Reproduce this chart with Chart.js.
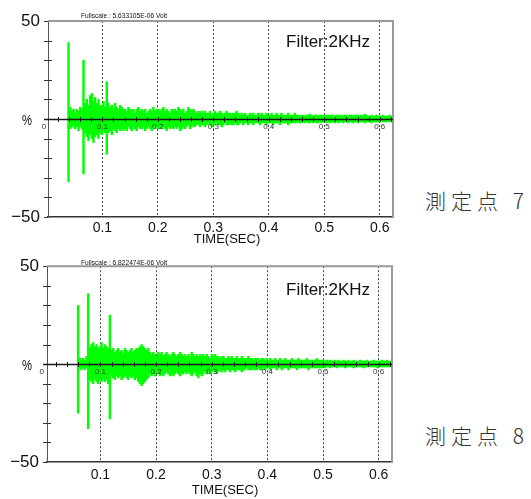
<!DOCTYPE html>
<html><head><meta charset="utf-8">
<script src="https://cdn.jsdelivr.net/npm/chart.js@4.4.1/dist/chart.umd.min.js"></script>
<style>
html,body{margin:0;padding:0;background:#fff;width:531px;height:499px;overflow:hidden;}
canvas{position:absolute;left:0;}
#c1{top:0}
#c2{top:248px}
.pt{position:absolute;left:425px;font-family:"Noto Sans CJK JP","Noto Sans CJK SC",sans-serif;font-weight:300;font-size:21px;letter-spacing:5px;color:#333;line-height:24px;white-space:nowrap}
</style></head><body>
<canvas id="c1" width="400" height="248"></canvas>
<canvas id="c2" width="400" height="251"></canvas>
<div class="pt" style="top:188px">測定点 7</div>
<div class="pt" style="top:423px">測定点 8</div>
<script>
// ---- data ----
const xTickValues = [0.1, 0.2, 0.3, 0.4, 0.5, 0.6];
const innerTickValues = [0, 0.1, 0.2, 0.3, 0.4, 0.5, 0.6];
const innerTickLabels = ['0', '0.1', '0.2', '0.3', '0.4', '0.5', '0.6'];
const yLabelTexts = { '50': '50', '-50': '\u221250' };
const sampleStep = 0.003;          // seconds per envelope bin
const start7 = 0.039;              // first bin of 測定点 7
const start8 = 0.060;              // first bin of 測定点 8
const fullscale7 = 'Fullscale : 5.633105E-06 Volt';
const fullscale8 = 'Fullscale : 6.822474E-06 Volt';
const filterText = 'Filter:2KHz';
const xTitle = 'TIME(SEC)';

// 測定点 7 envelope (%), max and min per bin
const hi7 = [39,
  6,4,5,3,5,4,6,5,
  30,
  8,10,7,12,13,9,11,8,10,7,
  7,9,6,
  19,
  8,6,7,5,8,6,5,7,6,5,
  5,4,6,5,4,5,3,5,6,4, 5,4,5,3,4,5,4,6,4,5,
  5,4,5,6,4,5,4,3,5,4, 5,4,6,5,4,5,3,4,6,5, 4,5,4,3,
  4,3,4,3,4,3,3,4,2,3, 4,3,3,4,3,2,3,4,3,3, 2,3,3,4,3,2,
  3,2,3,2,2,3,2,3,2,2, 3,2,3,2,2,3,2,2,3,2, 2,3,2,2,3,2,2,2,3,2, 2,2,3,
  2,2,1.5,2,2,1.5,2,2,2.5,2, 1.5,2,2,1.5,2,2,1.5,2,2,2, 1.5,2,2,1.5,2,2,1.5,2,1.5,2, 2,1.5,2,2,1.5,2,2,2,1.5,
  2,1.5,2.5,2,1.5,1.5,2,1.5,1.5,2, 1.5,1.5,1.5,2,1.5,1.5,1.5,2,1.5,1.5];
const lo7 = [-32,
  -5,-4,-3,-5,-4,-6,-4,-5,
  -28,
  -7,-9,-11,-8,-10,-12,-9,-8,-10,-7,
  -8,-6,-7,
  -18,
  -7,-6,-8,-5,-6,-7,-5,-6,-5,-6,
  -5,-6,-4,-5,-6,-4,-5,-6,-4,-5, -5,-4,-6,-5,-4,-5,-6,-4,-5,-4,
  -5,-4,-5,-4,-5,-6,-4,-5,-4,-5, -4,-5,-4,-6,-5,-4,-5,-4,-3,-5, -4,-3,-4,-3,
  -3,-4,-3,-3,-4,-3,-2,-3,-4,-3, -3,-2,-3,-3,-4,-3,-2,-3,-3,-2, -3,-3,-2,-3,-3,-2,
  -2,-3,-2,-2,-3,-2,-2,-3,-2,-2, -2,-3,-2,-2,-2,-3,-2,-2,-2,-3, -2,-2,-2,-3,-2,-2,-2,-2,-3,-2, -2,-2,-2,
  -2,-1.5,-2,-2,-1.5,-2,-1.5,-2,-2,-1.5, -2,-1.5,-2,-2,-1.5,-2,-1.5,-1.5,-2,-1.5, -2,-1.5,-1.5,-2,-1.5,-2,-1.5,-1.5,-2,-1.5, -1.5,-2,-1.5,-1.5,-2,-1.5,-1.5,-2,-1.5,
  -1.5,-1.5,-2,-1.5,-1.5,-1.5,-2,-1.5,-1.5,-1.5, -1.5,-1.5,-1,-1.5,-1.5,-1.5,-1,-1.5,-1.5,-1];

// 測定点 8 envelope (%), max and min per bin
const hi8 = [30,
  3,2,3,2,4,
  36,
  8,10,11,9,10,8,9,11,8,10,9,8,
  25,
  7,8,6,7,8,6,7,5,8,7,6,7,8,6,7,8,
  8,9,10,9,8,7,8,
  6,5,6,5,4,6,5,6,4,5, 6,5,4,5,6,5,4,5,6,5, 4,
  5,4,5,4,6,5,4,5,4,5, 4,5,4,5,4,3,5,4,5,4, 4,3,4,
  4,3,3,4,3,4,3,3,4,3, 3,4,3,3,3,4,3,3,2,3, 3,3,2,3,3,2,3,
  2,3,2,2,3,2,2,3,2,2, 3,2,2,2,3,2,2,2,3,2, 2,2,2,3,2,2,2,2,2,3, 2,2,2,
  2,1.5,2,1.5,2,1.5,1.5,2,1.5,2, 1.5,1.5,2,1.5,1.5,2,1.5,1.5,2,1.5, 1.5,1.5,2,1.5,1.5,1.5,2,1.5,1.5,1.5, 2,1.5,1.5,1.5,1.5,2,1.5,1.5,2,1.5, 1.5,1.5];
const lo8 = [-25,
  -2,-3,-2,-3,-2,
  -33,
  -8,-9,-10,-8,-9,-10,-8,-9,-7,-9,-8,-10,
  -28,
  -6,-7,-8,-6,-7,-6,-8,-7,-6,-7,-8,-6,-7,-6,-8,-7,
  -9,-10,-11,-10,-9,-8,-7,
  -5,-6,-5,-6,-5,-4,-6,-5,-6,-5, -4,-5,-6,-5,-6,-5,-4,-5,-6,-5, -5,
  -4,-5,-4,-5,-6,-5,-4,-6,-7,-5, -6,-5,-4,-5,-4,-5,-4,-3,-4,-5, -4,-3,-4,
  -3,-4,-3,-3,-4,-3,-3,-4,-3,-3, -3,-4,-3,-3,-2,-3,-3,-3,-2,-3, -3,-2,-3,-3,-2,-3,-2,
  -2,-3,-2,-2,-2,-3,-2,-2,-3,-2, -2,-2,-3,-2,-2,-2,-2,-3,-2,-2, -2,-2,-2,-2,-3,-2,-2,-2,-2,-2, -2,-2,-2,
  -1.5,-2,-1.5,-1.5,-2,-1.5,-1.5,-1.5,-2,-1.5, -1.5,-1.5,-1.5,-2,-1.5,-1.5,-1.5,-1.5,-2,-1.5, -1.5,-1.5,-1.5,-1.5,-2,-1.5,-1.5,-1.5,-1.5,-1.5, -1.5,-1.5,-2,-1.5,-1.5,-1.5,-1.5,-1.5,-1.5,-1.5, -1.5,-1.5];

// ---- drawing ----
Chart.defaults.font.family = '"Liberation Sans", Arial, sans-serif';
Chart.defaults.color = '#111';

const deco = {
  id: 'deco',
  afterDatasetsDraw(chart, args, o) {
    const {ctx, chartArea: a, scales: {x, y}} = chart;
    const y0 = Math.round(y.getPixelForValue(0)) + 0.5;
    const line = (x1, y1, x2, y2) => { ctx.beginPath(); ctx.moveTo(x1, y1); ctx.lineTo(x2, y2); ctx.stroke(); };
    ctx.save();
    // top & right frame
    ctx.strokeStyle = '#9a9a9a'; ctx.lineWidth = 2;
    ctx.beginPath(); ctx.moveTo(a.left, a.top); ctx.lineTo(a.right, a.top); ctx.lineTo(a.right, a.bottom); ctx.stroke();
    // y minor ticks crossing the axis
    ctx.strokeStyle = '#333'; ctx.lineWidth = 1;
    for (let v = -50; v <= 50; v += 10) {
      if (v === 0) continue;
      const py = Math.round(y.getPixelForValue(v)) + 0.5;
      line(a.left - 4, py, a.left + (Math.abs(v) === 50 ? 0 : 4), py);
    }
    // zero line
    ctx.strokeStyle = '#1a1a1a'; ctx.lineWidth = 1.5;
    line(a.left - 4, y0, a.right, y0);
    ctx.lineWidth = 1;
    for (let k = 1; k <= 31; k++) {
      const px = Math.round(x.getPixelForValue(k * 0.02)) + 0.5;
      if (px > a.right) break;
      line(px, y0 - 2.5, px, y0 + 2.5);
    }
    // inner small labels
    ctx.fillStyle = '#333'; ctx.font = '8px "Liberation Sans", Arial';
    ctx.textAlign = 'center'; ctx.textBaseline = 'middle';
    innerTickValues.forEach((v, i) => {
      let px = x.getPixelForValue(v);
      if (v === 0) px -= 3;
      ctx.fillText(innerTickLabels[i], px, y0 + 7);
    });
    // % label
    ctx.fillStyle = '#111'; ctx.font = '15px "Liberation Sans", Arial';
    ctx.textAlign = 'center';
    ctx.fillText('%', 27, y0 + 1, 10);
    // fullscale text
    ctx.font = '7px "Liberation Sans", Arial'; ctx.textAlign = 'left';
    ctx.fillText(o.fullscale, 81, a.top + o.fsDy, 86);
    // filter
    ctx.font = '17px "Liberation Sans", Arial';
    ctx.fillText(filterText, 286, a.top + o.filterDy);
    // x title
    ctx.font = '13px "Liberation Sans", Arial'; ctx.textAlign = 'center';
    ctx.fillText(xTitle, o.titleX, o.titleY);
    ctx.restore();
  }
};

function makeChart(id, start, hi, lo, opt) {
  const times = hi.map((_, i) => +(start + i * sampleStep).toFixed(3));
  const data = times.map((t, i) => ({x: t, y: [lo[i], hi[i]]}));
  return new Chart(document.getElementById(id), {
    type: 'bar',
    data: { datasets: [{ data, backgroundColor: '#00ff00', borderWidth: 0, barThickness: 1.8, grouped: false }] },
    options: {
      responsive: false, animation: false, events: [],
      layout: { padding: { top: opt.top, right: opt.right, left: 0, bottom: 0 } },
      plugins: { legend: { display: false }, tooltip: { enabled: false }, deco: opt.deco },
      scales: {
        x: {
          type: 'linear', min: start === start7 ? 0.002 : 0.004, max: 0.624, offset: false,
          afterBuildTicks(s) { s.ticks = xTickValues.map(v => ({ value: v })); },
          afterFit(s) { s.height = opt.xh; },
          ticks: { callback: v => v.toFixed(1), font: { size: 14 }, color: '#111', padding: opt.xpad, maxRotation: 0, autoSkip: false },
          grid: { color: '#444', lineWidth: 1, drawTicks: false, offset: false },
          border: { color: '#333', width: 1.5, dash: [2, 2] }
        },
        y: {
          min: -50, max: 50,
          afterFit(s) { s.width = opt.yw; },
          ticks: { stepSize: 10, callback: v => yLabelTexts[String(v)] || '', font: { size: 17 }, color: '#111', padding: 8 },
          grid: { display: false, drawTicks: false },
          border: { color: '#555', width: 1 }
        }
      }
    },
    plugins: [deco]
  });
}

makeChart('c1', start7, hi7, lo7, { top: 21, right: 7, xh: 31, yw: 48, xpad: 3,
  deco: { fullscale: fullscale7, fsDy: -5, filterDy: 21.7, titleX: 227, titleY: 239.5 } });
makeChart('c2', start8, hi8, lo8, { top: 17, right: 8, xh: 37, yw: 47, xpad: 5,
  deco: { fullscale: fullscale8, fsDy: -3.3, filterDy: 24.3, titleX: 225, titleY: 242 } });
</script>
</body></html>
